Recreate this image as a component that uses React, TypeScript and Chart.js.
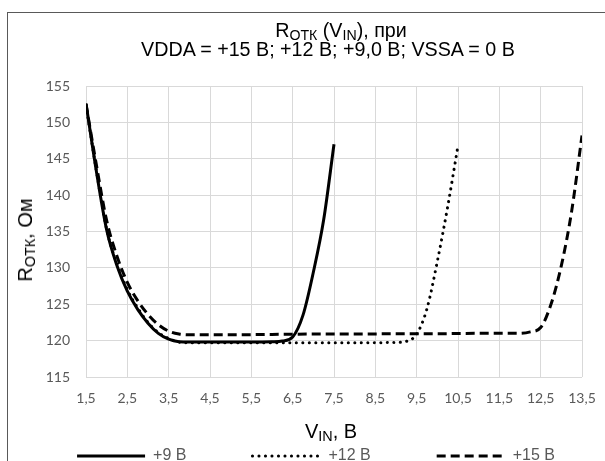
import React, { useEffect, useRef } from 'react';
import { Chart, registerables } from 'chart.js';

Chart.register(...registerables);

// ---- data ----
const xTickValues = [1.5, 2.5, 3.5, 4.5, 5.5, 6.5, 7.5, 8.5, 9.5, 10.5, 11.5, 12.5, 13.5];
const xTickLabels = ['1,5', '2,5', '3,5', '4,5', '5,5', '6,5', '7,5', '8,5', '9,5', '10,5', '11,5', '12,5', '13,5'];
const yMin = 115;
const yMax = 155;
const yStep = 5;

const seriesLabels = ['+9 В', '+12 В', '+15 В'];

const v9X = [1.5, 1.75, 2, 2.25, 2.5, 2.75, 3, 3.25, 3.5, 3.75, 4, 4.5, 5, 5.5, 6, 6.25, 6.5, 6.75, 7, 7.25, 7.5];
const v9R = [152.6, 143.3, 135.2, 130.3, 126.8, 124.3, 122.4, 121.0, 120.2, 119.85, 119.8, 119.8, 119.8, 119.8, 119.85, 119.95, 120.5, 123.5, 129.4, 136.6, 147.0];

const v12X = [1.5, 1.75, 2, 2.25, 2.5, 2.75, 3, 3.25, 3.5, 3.75, 4, 5, 6, 7, 8, 9, 9.25, 9.5, 9.75, 10, 10.25, 10.5];
const v12R = [152.4, 143.4, 135.3, 130.5, 127.0, 124.5, 122.5, 121.1, 120.3, 119.8, 119.7, 119.7, 119.7, 119.7, 119.7, 119.75, 119.9, 120.9, 124.4, 130.9, 138.4, 146.8];

const v15X = [1.5, 1.75, 2, 2.25, 2.5, 2.75, 3, 3.25, 3.5, 3.75, 4, 5, 6, 7, 8, 9, 10, 11, 12, 12.25, 12.5, 12.75, 13, 13.25, 13.5];
const v15R = [152.5, 144.2, 136.5, 131.6, 128.0, 125.5, 123.6, 122.2, 121.3, 120.9, 120.8, 120.8, 120.85, 120.9, 120.9, 120.95, 120.95, 121.0, 121.0, 121.2, 121.8, 125.0, 130.3, 137.8, 148.2];

const toPoints = (xs: number[], ys: number[]) => xs.map((x, i) => ({ x, y: ys[i] }));

const TITLE_FONT = '"Liberation Sans", Arial, sans-serif';
const TICK_FONT = 'Lato';
const sub: React.CSSProperties = { fontSize: '0.72em', verticalAlign: '-0.18em', lineHeight: 0 };

const X_AXIS_H = 34;
const LEGEND_GAP = 5;

// moves the legend up so that it sits close under the x axis while keeping wide item spacing
const legendShift = {
  id: 'legendShift',
  afterLayout(chart: any) {
    const lg = chart.legend;
    if (!lg) return;
    const dy = X_AXIS_H - LEGEND_GAP;
    lg.top -= dy;
    lg.bottom -= dy;
  },
};

export default function App() {
  const ref = useRef<HTMLCanvasElement>(null);

  useEffect(() => {
    document.body.style.margin = '0';
    const grid = { color: '#d9d9d9', lineWidth: 1, drawTicks: false };
    const tickFont = { family: TICK_FONT, size: 14 };
    const defaultGen = (Chart as any).defaults.plugins.legend.labels.generateLabels;
    const chart = new Chart(ref.current as HTMLCanvasElement, {
      type: 'line',
      data: {
        datasets: [
          {
            label: seriesLabels[0],
            data: toPoints(v9X, v9R),
            borderColor: '#000000',
            backgroundColor: '#000000',
            borderWidth: 3,
            pointRadius: 0,
            cubicInterpolationMode: 'monotone',
            fill: false,
          },
          {
            label: seriesLabels[1],
            data: toPoints(v12X, v12R),
            borderColor: '#000000',
            backgroundColor: '#000000',
            borderWidth: 3,
            borderDash: [0.1, 6.4],
            borderCapStyle: 'round',
            pointRadius: 0,
            cubicInterpolationMode: 'monotone',
            fill: false,
          },
          {
            label: seriesLabels[2],
            data: toPoints(v15X, v15R),
            borderColor: '#000000',
            backgroundColor: '#000000',
            borderWidth: 3,
            borderDash: [9, 5],
            pointRadius: 0,
            cubicInterpolationMode: 'monotone',
            fill: false,
          },
        ],
      },
      options: {
        responsive: false,
        animation: false,
        devicePixelRatio: 1,
        layout: { padding: { left: 0, right: 0, top: 86, bottom: 7 } },
        scales: {
          x: {
            type: 'linear',
            min: xTickValues[0],
            max: xTickValues[xTickValues.length - 1],
            afterBuildTicks: (s: any) => {
              s.ticks = xTickValues.map((v) => ({ value: v }));
            },
            afterTickToLabelConversion: (s: any) => {
              s.ticks.forEach((t: any) => {
                const i = xTickValues.indexOf(t.value);
                t.label = i >= 0 ? xTickLabels[i] : '';
              });
            },
            afterFit: (s: any) => {
              s.height = X_AXIS_H;
            },
            grid,
            border: { display: false },
            ticks: {
              padding: 13,
              color: '#595959',
              font: tickFont,
              maxRotation: 0,
              minRotation: 0,
              autoSkip: false,
            },
          },
          y: {
            type: 'linear',
            min: yMin,
            max: yMax,
            afterFit: (s: any) => {
              s.width = 86;
            },
            grid,
            border: { display: false },
            ticks: { stepSize: yStep, padding: 16, color: '#595959', font: tickFont },
          },
          yRight: {
            type: 'linear',
            position: 'right',
            display: true,
            grid: { display: false },
            border: { display: false },
            ticks: { display: false },
            afterFit: (s: any) => {
              s.width = 50;
            },
          },
        },
        plugins: {
          title: { display: false },
          tooltip: { enabled: false },
          legend: {
            display: true,
            position: 'bottom',
            labels: {
              usePointStyle: true,
              pointStyle: 'line',
              pointStyleWidth: 68,
              padding: 66,
              color: '#595959',
              font: { family: TITLE_FONT, size: 16 },
              generateLabels: (c: any) => {
                const items = defaultGen(c);
                items.forEach((it: any) => {
                  const ds = c.data.datasets[it.datasetIndex];
                  it.lineDash = ds.borderDash || [];
                  it.lineCap = ds.borderCapStyle || 'butt';
                  it.lineWidth = 3;
                  it.strokeStyle = '#000000';
                });
                return items;
              },
            },
          },
        },
      },
      plugins: [legendShift],
    } as any);
    return () => chart.destroy();
  }, []);

  return (
    <div
      style={{
        position: 'fixed',
        left: 0,
        top: 0,
        width: 605,
        height: 461,
        overflow: 'hidden',
        background: '#ffffff',
      }}
    >
      <div
        style={{
          position: 'absolute',
          left: 7,
          top: 12,
          width: 800,
          height: 800,
          borderLeft: '1px solid #595959',
          borderTop: '1px solid #595959',
        }}
      />
      <canvas
        ref={ref}
        width={632}
        height={510}
        style={{ position: 'absolute', left: 0, top: 0, width: 632, height: 510, display: 'block' }}
      />
      <div
        style={{
          position: 'absolute',
          left: 341,
          top: 19,
          transform: 'translateX(-50%)',
          fontFamily: TITLE_FONT,
          fontSize: 19.7,
          lineHeight: '22px',
          whiteSpace: 'nowrap',
          color: '#000',
        }}
      >
        R<span style={sub}>ОТК</span> (V<span style={sub}>IN</span>), при
      </div>
      <div
        style={{
          position: 'absolute',
          left: 328,
          top: 38,
          transform: 'translateX(-50%)',
          fontFamily: TITLE_FONT,
          fontSize: 19.7,
          lineHeight: '22px',
          whiteSpace: 'nowrap',
          color: '#000',
        }}
      >
        VDDA = +15 В; +12 В; +9,0 В; VSSA = 0 В
      </div>
      <div
        style={{
          position: 'absolute',
          left: 25,
          top: 240,
          transform: 'translate(-50%, -50%) rotate(-90deg)',
          fontFamily: TITLE_FONT,
          fontSize: 20,
          lineHeight: '22px',
          whiteSpace: 'nowrap',
          color: '#000',
        }}
      >
        R<span style={sub}>ОТК</span>, Ом
      </div>
      <div
        style={{
          position: 'absolute',
          left: 331,
          top: 431,
          transform: 'translate(-50%, -50%)',
          fontFamily: TITLE_FONT,
          fontSize: 20,
          lineHeight: '22px',
          whiteSpace: 'nowrap',
          color: '#000',
        }}
      >
        V<span style={sub}>IN</span>, В
      </div>
    </div>
  );
}
